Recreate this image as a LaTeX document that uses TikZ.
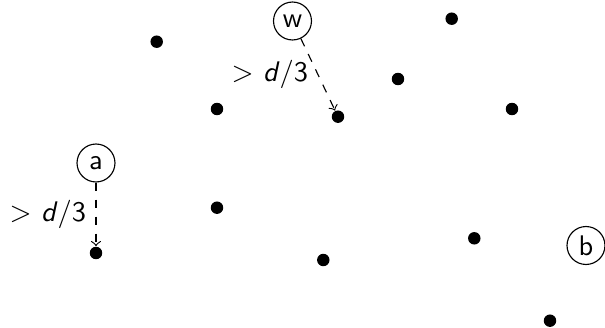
\documentclass[tikz,border=0pt]{standalone}
\usetikzlibrary{positioning}

\begin{document}
\begin{tikzpicture}[
      x=0.0124cm, y=-0.0124cm,
      font=\sffamily,
      vertex/.style={draw, circle, inner sep=0pt, minimum size=13.4pt},
      site/.style={circle, fill=black, inner sep=0pt, minimum size=4.4pt},
      gap/.style={->, dashed},
      lbl/.style={left}
    ]
    \useasboundingbox (0,0) rectangle (605,328);

    % labelled vertices
    \node[vertex] (w) at (292.5,21)  {w};
    \node[vertex] (a) at (96,163)    {a};
    \node[vertex] (b) at (586,245.5) {b};

    % the other points
    \node[site] (p1)  at (156.7,41.7)  {};
    \node[site] (p2)  at (451.7,18.7)  {};
    \node[site] (p3)  at (398,79)      {};
    \node[site] (p4)  at (217,109)     {};
    \node[site] (p5)  at (338,116.7)   {};
    \node[site] (p6)  at (512,109)     {};
    \node[site] (p7)  at (217,207.7)   {};
    \node[site] (p8)  at (96,253)      {};
    \node[site] (p9)  at (323.3,260)   {};
    \node[site] (p10) at (474.3,238.3) {};
    \node[site] (p11) at (550,320.7)   {};

    \draw[gap] (w) -- node[lbl] {\textgreater\ \textit{d}/3} (p5);
    \draw[gap] (a) -- node[lbl] {\textgreater\ \textit{d}/3} (p8);

  \end{tikzpicture}
\end{document}
